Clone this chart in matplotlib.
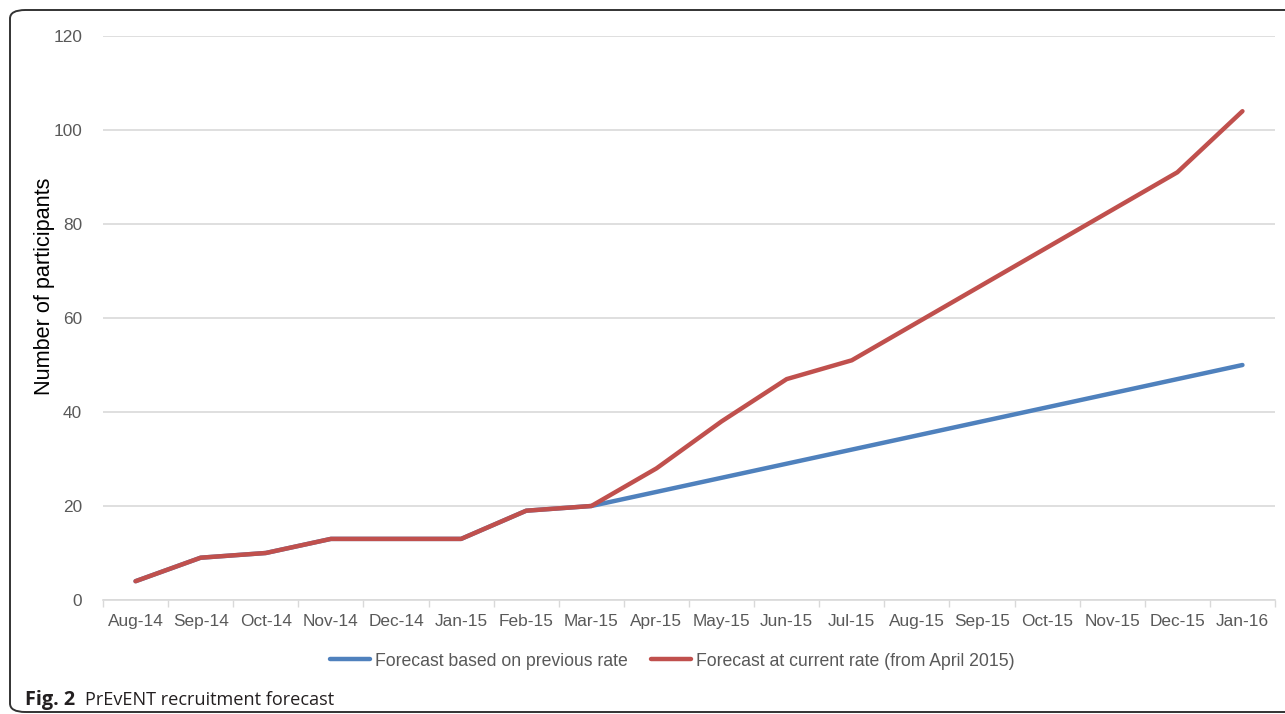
#!/usr/bin/env python3
"""
PrEvENT recruitment forecast: cumulative participants per month.
"""

import matplotlib.pyplot as plt
from matplotlib.patches import FancyBboxPatch

# Months on the x axis
months = ["Aug-14", "Sep-14", "Oct-14", "Nov-14", "Dec-14", "Jan-15",
          "Feb-15", "Mar-15", "Apr-15", "May-15", "Jun-15", "Jul-15",
          "Aug-15", "Sep-15", "Oct-15", "Nov-15", "Dec-15", "Jan-16"]

# Forecast based on previous rate
previous_rate = [4, 9, 10, 13, 13, 13, 19, 20, 23, 26,
                 29, 32, 35, 38, 41, 44, 47, 50]
# Forecast at current rate (from April 2015)
current_rate = [4, 9, 10, 13, 13, 13, 19, 20, 28, 38,
                47, 51, 59, 67, 75, 83, 91, 104]

y_ticks = [0, 20, 40, 60, 80, 100, 120]

blue = "#4F81BD"
red = "#C0504D"
grey_text = "#595959"
grid_col = "#D9D9D9"

plt.rcParams["font.family"] = ["Liberation Sans", "DejaVu Sans"]

fig = plt.figure(figsize=(12.85, 7.14), dpi=100)
ax = fig.add_axes([103 / 1285, 1 - 600 / 714, 1172 / 1285, 564 / 714])

x = list(range(len(months)))
ax.plot(x, previous_rate, color=blue, lw=3.2, solid_capstyle="round",
        label="Forecast based on previous rate", zorder=3)
ax.plot(x, current_rate, color=red, lw=3.2, solid_capstyle="round",
        label="Forecast at current rate (from April 2015)", zorder=4)

ax.set_xlim(-0.5, len(months) - 0.5)
ax.set_ylim(0, 120)

# category boundaries get the tick marks, centres get the labels
ax.set_xticks([i - 0.5 for i in range(len(months) + 1)])
ax.set_xticklabels([])
ax.set_xticks(x, minor=True)
ax.set_xticklabels(months, minor=True)
ax.tick_params(axis="x", which="major", length=5, width=1, color=grid_col)
ax.tick_params(axis="x", which="minor", length=0, pad=10,
               labelsize=12.4, labelcolor=grey_text)

ax.set_yticks(y_ticks)
ax.tick_params(axis="y", length=0, pad=15, labelsize=12.4, labelcolor=grey_text)
ax.grid(True, axis="y", color=grid_col, lw=1.2)
ax.set_axisbelow(True)

for s in ["top", "right", "left"]:
    ax.spines[s].set_visible(False)
ax.spines["bottom"].set_color(grid_col)
ax.spines["bottom"].set_linewidth(1.2)

ax.set_ylabel("Number of participants", fontsize=15.6, color="black")
ax.yaxis.set_label_coords(-0.041, 0.557)

fig.legend(loc="center", bbox_to_anchor=(672 / 1285, 1 - 661 / 714), ncol=2,
           frameon=False, fontsize=12.7, labelcolor=grey_text,
           handlelength=2.3, handletextpad=0.25, columnspacing=1.3)

# caption and outer frame
cap_y = 1 - 705 / 714
fig.text(25 / 1285, cap_y, "Fig. 2", fontsize=14.3, fontweight="bold",
         family="Open Sans", va="baseline", ha="left", color="#231F20")
fig.text(85 / 1285, cap_y, "PrEvENT recruitment forecast", fontsize=13.1,
         family="Open Sans", va="baseline", ha="left", color="#231F20")

frame = FancyBboxPatch((10 / 1285, 2 / 714), 1.2, 1 - 12 / 714,
                       boxstyle="round,pad=0,rounding_size=0.012",
                       transform=fig.transFigure, fill=False,
                       edgecolor="#333333", lw=1.4, clip_on=False)
fig.patches.append(frame)

plt.savefig("out.png", dpi=100, facecolor="white")
